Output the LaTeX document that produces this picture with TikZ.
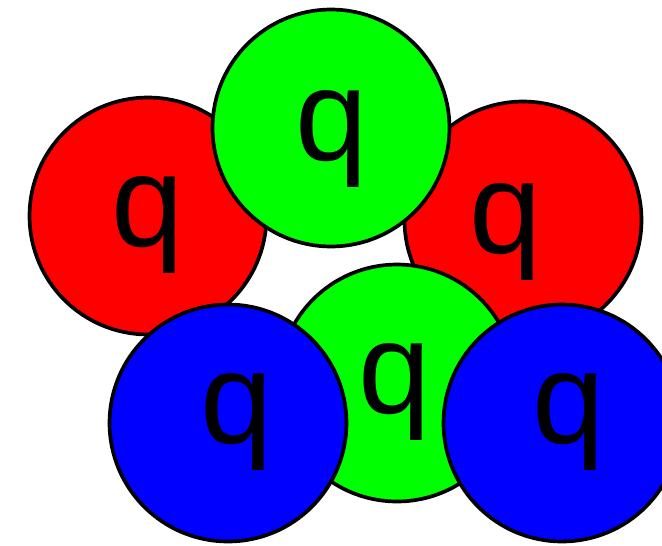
\documentclass[tikz,border=0pt]{standalone}
\usepackage{fontspec}
\setmainfont{Liberation Sans}
\usetikzlibrary{positioning}

\definecolor{qred}{RGB}{255,0,0}
\definecolor{qgreen}{RGB}{0,255,0}
\definecolor{qblue}{RGB}{0,0,255}

\begin{document}
\begin{tikzpicture}[x=0.02cm, y=-0.02cm,
  ball/.style={circle, draw=black, line width=2.1pt, fill=#1, minimum size=4.74cm, inner sep=0pt},
  quark/.style={anchor=base, inner sep=0pt, font=\fontsize{74}{74}\selectfont}
]
  \clip (0,0) rectangle (662,545);
  \fill[white] (0,0) rectangle (662,545);

  % Red (left)
  \node[ball=qred] (rl) at (148,216) {};
  \node[quark] (qrl) at (148,246) {q};

  % Red (right)
  \node[ball=qred] (rr) at (523,220) {};
  \node[quark] (qrr) at (506,253) {q};

  % Green (top)
  \node[ball=qgreen] (gt) at (331,128) {};
  \node[quark] (qgt) at (332,160) {q};

  % Green (bottom)
  \node[ball=qgreen] (gb) at (397,383) {};
  \node[quark] (qgb) at (395,413) {q};

  % Blue (left)
  \node[ball=qblue] (bl) at (228,423) {};
  \node[quark] (qbl) at (237,443) {q};

  % Blue (right)
  \node[ball=qblue] (br) at (562,423) {};
  \node[quark] (qbr) at (569,443) {q};
\end{tikzpicture}
\end{document}
